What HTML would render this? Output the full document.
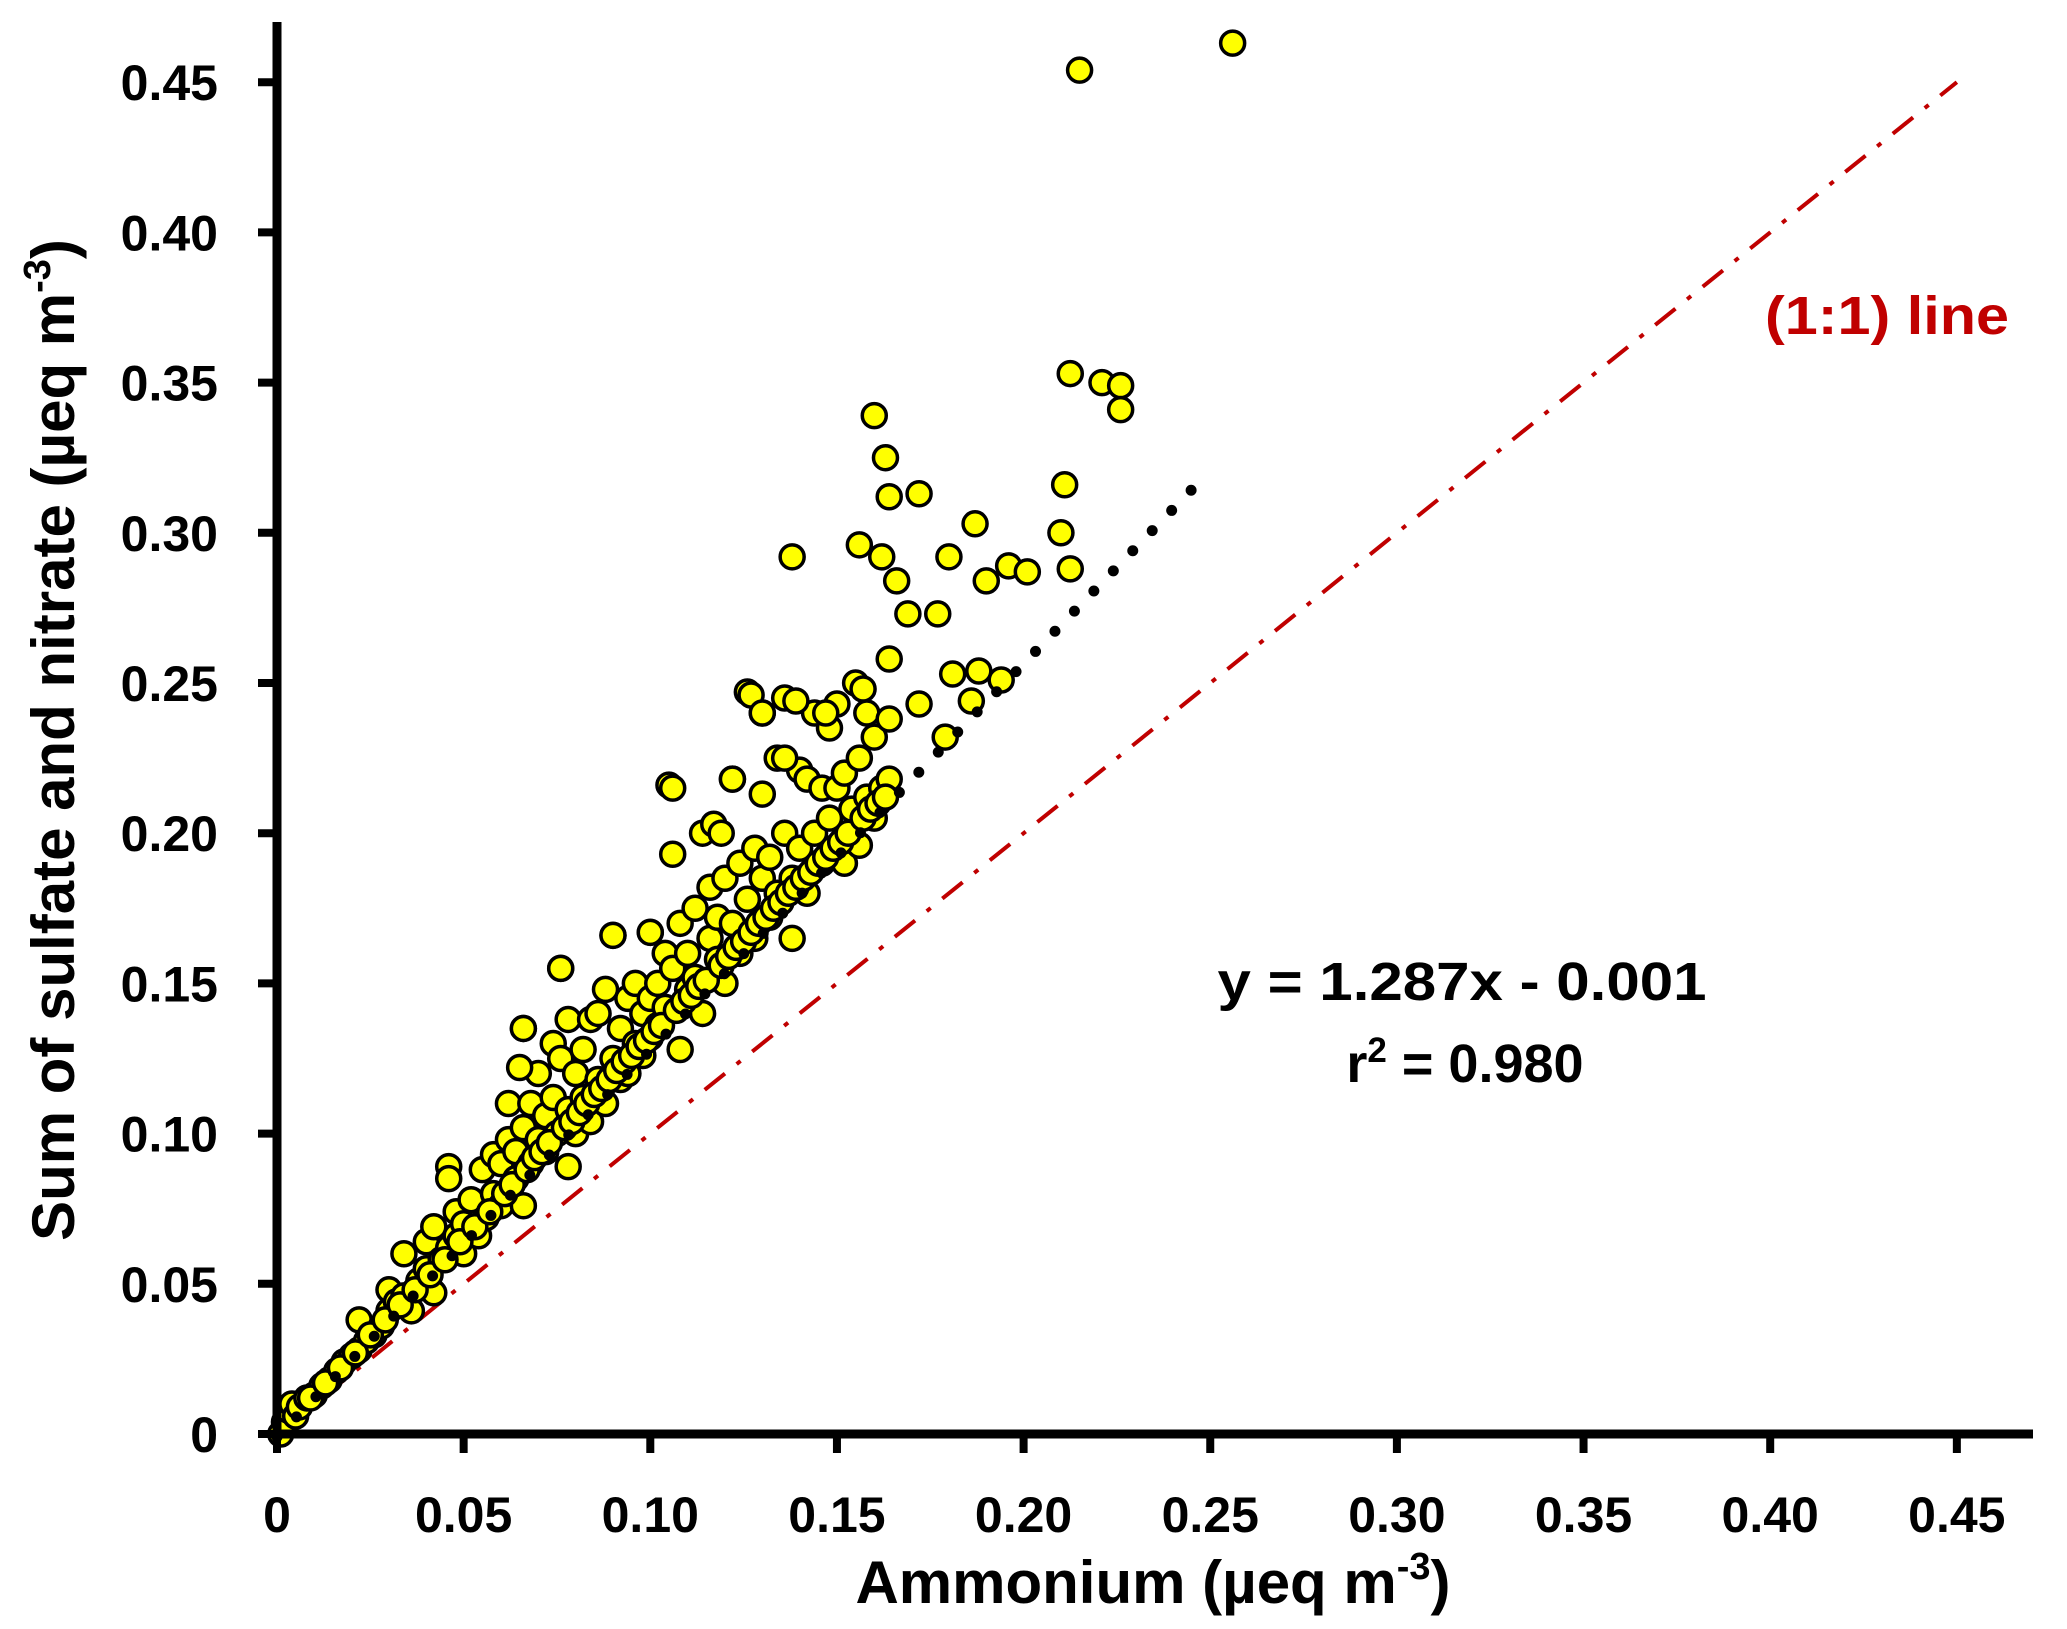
<!DOCTYPE html>
<html><head><meta charset="utf-8"><style>
html,body{margin:0;padding:0;background:#fff;}
svg{display:block;font-family:"Liberation Sans",sans-serif;font-weight:bold;}
</style></head><body>
<svg id="chart" width="2067" height="1629" viewBox="0 0 2067 1629" xmlns="http://www.w3.org/2000/svg">
<g id="lines"></g>
<g id="points"></g>
<g id="axes"></g>
<text x="1462" y="1000" font-size="54" text-anchor="middle" textLength="489" lengthAdjust="spacingAndGlyphs">y = 1.287x - 0.001</text>
<text x="1465" y="1082" font-size="54" text-anchor="middle">r<tspan font-size="35" dy="-20">2</tspan><tspan dy="20"> = 0.980</tspan></text>
<text x="1765" y="334" font-size="54" fill="#C00000" textLength="244" lengthAdjust="spacingAndGlyphs">(1:1) line</text>
<text x="1153" y="1603" font-size="60" text-anchor="middle">Ammonium (µeq m<tspan font-size="38" dy="-24">-3</tspan><tspan dy="24">)</tspan></text>
<text transform="translate(74,740) rotate(-90)" font-size="60" text-anchor="middle">Sum of sulfate and nitrate (µeq m<tspan font-size="38" dy="-24">-3</tspan><tspan dy="24">)</tspan></text>
</svg>
<script>
const xTicks = [0,0.05,0.10,0.15,0.20,0.25,0.30,0.35,0.40,0.45];
const xTickLabels = ["0","0.05","0.10","0.15","0.20","0.25","0.30","0.35","0.40","0.45"];
const yTicks = [0,0.05,0.10,0.15,0.20,0.25,0.30,0.35,0.40,0.45];
const yTickLabels = ["0","0.05","0.10","0.15","0.20","0.25","0.30","0.35","0.40","0.45"];
const slope = 1.287;
const intercept = -0.001;
const fitRange = [0, 0.25];
const ammonium = [0.001,0.002,0.003,0.004,0.005,0.006,0.008,0.010,0.012,0.014,0.016,0.018,0.020,0.022,0.022,0.024,0.026,0.028,0.030,0.030,0.032,0.034,0.034,0.036,0.038,0.040,0.040,0.042,0.042,0.044,0.046,0.046,0.048,0.048,0.050,0.050,
0.052,0.054,0.055,0.056,0.058,0.058,0.060,0.060,0.062,0.062,0.064,0.064,0.066,0.066,0.066,0.068,0.068,0.070,0.070,0.072,0.072,0.074,0.074,0.075,0.076,0.076,0.078,0.078,0.078,0.080,0.080,0.082,0.082,0.084,0.084,0.086,0.086,0.088,0.088,0.090,0.090,0.092,0.092,0.094,0.094,0.096,0.096,0.098,0.098,0.100,0.100,0.100,
0.102,0.102,0.104,0.104,0.105,0.106,0.106,0.108,0.108,0.110,0.110,0.112,0.112,0.114,0.114,0.116,0.116,0.117,0.118,0.118,0.120,0.120,0.122,0.122,0.124,0.124,0.126,0.126,0.128,0.128,0.130,0.130,0.130,0.132,0.132,0.134,0.134,0.136,0.136,0.138,0.138,0.140,0.140,0.142,0.142,0.144,0.144,0.146,0.146,0.148,0.148,0.150,0.150,
0.152,0.152,0.154,0.155,0.156,0.156,0.158,0.158,0.160,0.160,0.162,0.164,0.164,
0.256,0.215,0.2125,0.221,0.226,0.226,0.211,0.210,0.2125,0.160,0.163,0.164,0.172,0.138,0.156,0.162,0.166,0.169,0.177,0.180,0.187,0.190,0.196,0.201,0.164,0.172,0.181,0.188,0.194,0.186,0.179,0.127,0.130,0.139,0.157,0.147,0.106,0.122,0.119,0.136,0.076,0.090,0.100,0.066,0.065,0.046,
0.009,0.013,0.017,0.021,0.025,0.029,0.033,0.037,0.041,0.045,0.049,0.053,0.057,0.061,0.063,0.067,0.069,0.071,0.073,0.077,0.079,0.081,0.083,0.085,0.087,0.089,0.091,0.093,0.095,0.097,0.099,0.101,0.103,0.107,0.109,0.111,0.113,0.115,0.119,0.121,0.123,0.125,0.127,0.129,0.131,0.133,0.135,0.137,0.139,0.141,0.143,0.145,0.147,0.149,0.151,0.153,0.157,0.159,0.161,0.163];
const sulfateNitrate = [0.000,0.004,0.008,0.010,0.006,0.009,0.012,0.013,0.016,0.018,0.021,0.024,0.026,0.038,0.028,0.031,0.033,0.036,0.041,0.048,0.044,0.046,0.060,0.041,0.051,0.055,0.064,0.069,0.047,0.058,0.089,0.062,0.066,0.074,0.070,0.060,
0.078,0.066,0.088,0.072,0.093,0.080,0.076,0.090,0.110,0.098,0.085,0.094,0.135,0.076,0.102,0.090,0.110,0.098,0.120,0.106,0.094,0.130,0.112,0.100,0.125,0.155,0.108,0.138,0.089,0.120,0.100,0.128,0.112,0.138,0.104,0.118,0.140,0.110,0.148,0.166,0.125,0.135,0.118,0.145,0.120,0.130,0.150,0.140,0.126,0.167,0.145,0.132,
0.150,0.136,0.160,0.142,0.216,0.193,0.155,0.128,0.170,0.148,0.160,0.175,0.152,0.200,0.140,0.165,0.182,0.203,0.158,0.172,0.185,0.150,0.218,0.170,0.190,0.160,0.247,0.178,0.195,0.165,0.240,0.185,0.213,0.172,0.192,0.225,0.180,0.245,0.200,0.185,0.165,0.221,0.195,0.180,0.218,0.240,0.200,0.215,0.190,0.235,0.205,0.243,0.215,
0.190,0.220,0.208,0.250,0.225,0.196,0.240,0.212,0.232,0.205,0.215,0.238,0.218,
0.463,0.454,0.353,0.350,0.349,0.341,0.316,0.300,0.288,0.339,0.325,0.312,0.313,0.292,0.296,0.292,0.284,0.273,0.273,0.292,0.303,0.284,0.289,0.287,0.258,0.243,0.253,0.254,0.251,0.244,0.232,0.246,0.240,0.244,0.248,0.240,0.215,0.218,0.200,0.225,0.155,0.166,0.167,0.135,0.122,0.085,
0.012,0.017,0.022,0.027,0.033,0.038,0.043,0.048,0.053,0.058,0.064,0.069,0.074,0.080,0.083,0.088,0.092,0.094,0.097,0.102,0.104,0.107,0.110,0.113,0.115,0.118,0.121,0.124,0.126,0.129,0.131,0.134,0.136,0.141,0.144,0.146,0.149,0.151,0.156,0.159,0.162,0.164,0.167,0.170,0.172,0.175,0.177,0.180,0.182,0.185,0.187,0.190,0.192,0.195,0.197,0.200,0.205,0.208,0.210,0.212];

const X0=277, XS=3733, Y0=1434, YS=3004;
const sx = v => X0 + v*XS;
const sy = v => Y0 - v*YS;
const NS="http://www.w3.org/2000/svg";
function mk(tag, attrs, parent){const e=document.createElementNS(NS,tag);for(const k in attrs)e.setAttribute(k,attrs[k]);parent.appendChild(e);return e;}

const lines=document.getElementById('lines');
const one=mk('line',{x1:sx(0),y1:sy(0),x2:sx(0.45),y2:sy(0.45),stroke:'#C00000','stroke-width':4,'stroke-dasharray':'26 15 5 15'},lines);



const pts=document.getElementById('points');
for(let i=0;i<ammonium.length;i++){
  const c=mk('circle',{cx:sx(ammonium[i]),cy:sy(sulfateNitrate[i]),r:12,fill:'#FFFF00',stroke:'#000','stroke-width':3.5},pts);
  
  
}
const fit=mk('line',{x1:sx(fitRange[0]),y1:sy(slope*fitRange[0]+intercept),x2:sx(fitRange[1]),y2:sy(slope*fitRange[1]+intercept),stroke:'#000','stroke-width':11,'stroke-linecap':'round','stroke-dasharray':'0 28'},lines);


pts.parentNode.insertBefore(fit, pts.nextSibling);

const axes=document.getElementById('axes');
const xa=mk('line',{x1:X0-4,y1:Y0,x2:2033,y2:Y0,stroke:'#000','stroke-width':9},axes);


const ya=mk('line',{x1:X0,y1:22,x2:X0,y2:Y0+4,stroke:'#000','stroke-width':9},axes);


xTicks.forEach((v,i)=>{
  const t=mk('line',{x1:sx(v),y1:Y0,x2:sx(v),y2:Y0+19,stroke:'#000','stroke-width':8},axes);
  
  
  const l=mk('text',{x:sx(v),y:1532,'font-size':50,'text-anchor':'middle'},axes);
  l.textContent=xTickLabels[i];
  
  
});
yTicks.forEach((v,i)=>{
  const t=mk('line',{x1:X0-19,y1:sy(v),x2:X0,y2:sy(v),stroke:'#000','stroke-width':8},axes);
  
  
  const l=mk('text',{x:218,y:sy(v)+18,'font-size':50,'text-anchor':'end'},axes);
  l.textContent=yTickLabels[i];
  
  
});
</script>
</body></html>
